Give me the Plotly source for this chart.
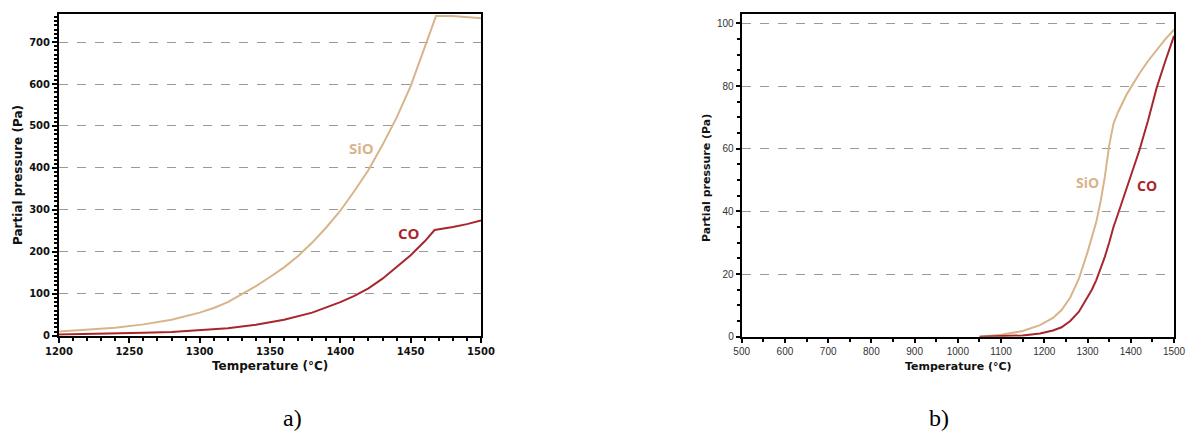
import plotly.graph_objects as go

# ---- data (a) ----
t_a = [1200, 1220, 1240, 1260, 1280, 1300, 1310, 1320, 1330, 1340, 1350, 1360, 1370, 1380, 1390,
       1400, 1410, 1420, 1430, 1440, 1450, 1460, 1468, 1480, 1490, 1500]
sio_a = [10, 14, 19, 27, 38, 55, 66, 80, 98, 118, 140, 163, 190, 222, 258,
         298, 345, 395, 455, 520, 595, 685, 762, 762, 760, 757]
t_a_co = [1200, 1220, 1240, 1260, 1280, 1300, 1320, 1340, 1360, 1380, 1390, 1400, 1410, 1420,
          1430, 1440, 1450, 1460, 1467, 1480, 1490, 1500]
co_a = [3, 4, 5, 7, 9, 13, 18, 26, 38, 55, 67, 80, 95, 113, 136, 163, 192, 225, 252, 259, 266, 275]

# ---- data (b) ----
t_b = [1050, 1100, 1150, 1190, 1220, 1240, 1260, 1280, 1300, 1310, 1320, 1330, 1340, 1350, 1360,
       1370, 1380, 1390, 1400, 1420, 1440, 1460, 1480, 1500]
sio_b = [0, 0.6, 1.8, 3.7, 6, 8.5, 12.5, 18.5, 27, 31.5, 36.5, 43, 51, 61, 68,
         71.5, 74.5, 77.2, 79.5, 84, 88, 91.5, 95, 98]
co_b = [0, 0.1, 0.4, 1, 2, 3, 5, 8, 12.5, 15, 18, 21.5, 25.5, 30, 35,
        39, 43, 47, 51, 59.5, 69, 79.5, 88, 96]

SIO_COLOR = "#D8B48A"
CO_COLOR = "#A8272D"
W, H = 1186, 433

fig = go.Figure()
fig.add_trace(go.Scatter(x=t_a, y=sio_a, mode="lines", line=dict(color=SIO_COLOR, width=2),
                         xaxis="x", yaxis="y", showlegend=False))
fig.add_trace(go.Scatter(x=t_a_co, y=co_a, mode="lines", line=dict(color=CO_COLOR, width=2),
                         xaxis="x", yaxis="y", showlegend=False))
fig.add_trace(go.Scatter(x=t_b, y=sio_b, mode="lines", line=dict(color=SIO_COLOR, width=2),
                         xaxis="x2", yaxis="y2", showlegend=False))
fig.add_trace(go.Scatter(x=t_b, y=co_b, mode="lines", line=dict(color=CO_COLOR, width=2),
                         xaxis="x2", yaxis="y2", showlegend=False))

def px(x):
    return x / W

def py(y):
    return 1 - y / H

tickfont_a = dict(family="DejaVu Sans", size=10, color="#111", weight="bold")
tickfont_b = dict(family="Liberation Sans", size=10, color="#333")

fig.update_layout(
    width=W, height=H, margin=dict(l=0, r=0, t=0, b=0, autoexpand=False),
    paper_bgcolor="white", plot_bgcolor="white",
    xaxis=dict(domain=[px(59), px(481)], range=[1200, 1500], anchor="y", automargin=False,
               showline=True, mirror=True, linecolor="black", linewidth=2,
               ticks="outside", ticklen=5, tickwidth=2, tickcolor="black",
               tick0=1200, dtick=50,
               tickfont=tickfont_a, showgrid=False, zeroline=False,
               minor=dict(dtick=10, ticks="outside", ticklen=3, tickwidth=1.5, tickcolor="black",
                          showgrid=False)),
    yaxis=dict(domain=[py(335.7), py(14)], range=[0, 767], anchor="x", automargin=False,
               showline=True, mirror=True, linecolor="black", linewidth=2,
               ticks="outside", ticklen=5, tickwidth=2, tickcolor="black",
               tick0=0, dtick=100,
               tickfont=tickfont_a, showgrid=True, gridcolor="#9a9a9a", gridwidth=1,
               griddash="dash", zeroline=False,
               minor=dict(dtick=10, ticks="outside", ticklen=3, tickwidth=1.5, tickcolor="black",
                          showgrid=False)),
    xaxis2=dict(domain=[px(741.7), px(1174)], range=[500, 1500], anchor="y2", automargin=False,
                showline=True, mirror=True, linecolor="black", linewidth=2,
                ticks="outside", ticklen=4, tickwidth=1.5, tickcolor="black",
                dtick=100, tick0=500, tickfont=tickfont_b, showgrid=False, zeroline=False,
                minor=dict(dtick=50, ticks="outside", ticklen=3, tickwidth=1.5, tickcolor="black",
                           showgrid=False)),
    yaxis2=dict(domain=[py(336.7), py(14)], range=[0, 103], anchor="x2", automargin=False,
                showline=True, mirror=True, linecolor="black", linewidth=2,
                ticks="outside", ticklen=4, tickwidth=1.5, tickcolor="black",
                tick0=0, dtick=20, tickfont=tickfont_b, showgrid=True, gridcolor="#9a9a9a",
                gridwidth=1, griddash="dash", zeroline=False,
                minor=dict(dtick=5, ticks="outside", ticklen=3, tickwidth=1.5, tickcolor="black",
                           showgrid=False)),
)

annots = [
    dict(text="<b>Partial pressure (Pa)</b>", x=px(18), y=py(175), textangle=-90,
         font=dict(family="DejaVu Sans", size=12, color="#111")),
    dict(text="<b>Temperature (°C)</b>", x=px(270), y=py(366),
         font=dict(family="DejaVu Sans", size=12, color="#111")),
    dict(text="<b>Partial pressure (Pa)</b>", x=px(706), y=py(178), textangle=-90,
         font=dict(family="DejaVu Sans", size=11, color="#111")),
    dict(text="<b>Temperature (°C)</b>", x=px(958), y=py(366),
         font=dict(family="DejaVu Sans", size=11, color="#111")),
    dict(text="<b>SiO</b>", x=px(362), y=py(148),
         font=dict(family="Open Sans", size=15, color=SIO_COLOR)),
    dict(text="<b>CO</b>", x=px(409), y=py(233),
         font=dict(family="Open Sans", size=15, color=CO_COLOR)),
    dict(text="<b>SiO</b>", x=px(1087), y=py(183),
         font=dict(family="Open Sans", size=14, color=SIO_COLOR)),
    dict(text="<b>CO</b>", x=px(1147), y=py(185),
         font=dict(family="Open Sans", size=14, color=CO_COLOR)),
    dict(text="a)", x=px(292), y=py(418),
         font=dict(family="Liberation Serif", size=24, color="black")),
    dict(text="b)", x=px(939), y=py(418),
         font=dict(family="Liberation Serif", size=24, color="black")),
]
for a in annots:
    a.update(xref="paper", yref="paper", showarrow=False, xanchor="center", yanchor="middle")
fig.update_layout(annotations=annots)

fig.write_html(
    "out.html",
    config={"displayModeBar": False},
    post_script="document.body.style.margin='0';document.body.style.overflow='hidden';",
)
